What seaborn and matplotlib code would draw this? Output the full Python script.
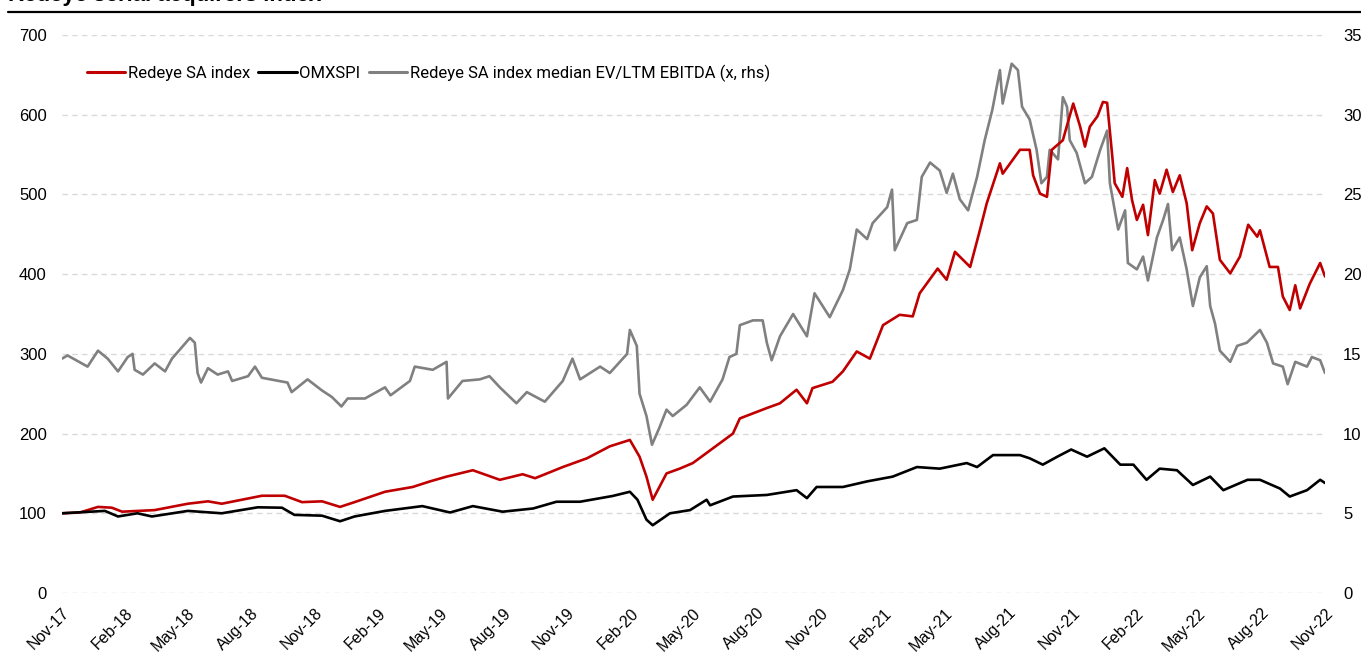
import matplotlib
matplotlib.use("Agg")
import matplotlib.pyplot as plt
import matplotlib.dates as mdates
from matplotlib.lines import Line2D
import pandas as pd
import seaborn as sns

# ============================================
# Data
# ============================================

redeye_dates = [
    "2017-11-20", "2017-12-16", "2018-01-11", "2018-01-31", "2018-02-15", "2018-04-03",
    "2018-05-21", "2018-06-19", "2018-07-09", "2018-09-05", "2018-10-08", "2018-11-02",
    "2018-12-01", "2018-12-27", "2019-01-17", "2019-03-02", "2019-04-11", "2019-05-06",
    "2019-05-30", "2019-07-07", "2019-08-15", "2019-09-17", "2019-10-05", "2019-11-14",
    "2019-12-19", "2020-01-21", "2020-02-19", "2020-03-04", "2020-03-14", "2020-03-23",
    "2020-04-12", "2020-05-01", "2020-05-20", "2020-06-11", "2020-07-17", "2020-07-27",
    "2020-09-04", "2020-09-23", "2020-10-17", "2020-11-01", "2020-11-09", "2020-12-08",
    "2020-12-23", "2021-01-12", "2021-01-31", "2021-02-19", "2021-03-15", "2021-04-03",
    "2021-04-13", "2021-05-09", "2021-05-22", "2021-06-03", "2021-06-25", "2021-07-09",
    "2021-07-19", "2021-08-07", "2021-08-11", "2021-09-05", "2021-09-19", "2021-09-24",
    "2021-10-04", "2021-10-14", "2021-10-21", "2021-11-06", "2021-11-21", "2021-12-01",
    "2021-12-08", "2021-12-15", "2021-12-26", "2022-01-03", "2022-01-09", "2022-01-16",
    "2022-01-20", "2022-01-31", "2022-02-07", "2022-02-14", "2022-02-21", "2022-03-02",
    "2022-03-09", "2022-03-19", "2022-03-26", "2022-04-05", "2022-04-14", "2022-04-24",
    "2022-05-04", "2022-05-12", "2022-05-23", "2022-06-02", "2022-06-11", "2022-06-21",
    "2022-07-06", "2022-07-20", "2022-08-01", "2022-08-14", "2022-08-18", "2022-09-01",
    "2022-09-13", "2022-09-20", "2022-09-30", "2022-10-08", "2022-10-15", "2022-10-29",
    "2022-11-13", "2022-11-20",
]
redeye_values = [
    100, 101, 108, 107, 102, 104,
    112, 115, 112, 122, 122, 114,
    115, 108, 114, 127, 133, 140,
    146, 154, 142, 149, 144, 158,
    169, 184, 192, 171, 146, 117,
    150, 156, 163, 177, 200, 219,
    232, 238, 255, 238, 257, 265,
    278, 303, 294, 336, 349, 347,
    376, 407, 393, 428, 409, 455,
    489, 539, 526, 556, 556, 524,
    501, 497, 556, 568, 614, 585,
    560, 585, 598, 616, 615, 552,
    514, 497, 533, 493, 468, 487,
    449, 518, 501, 531, 503, 524,
    489, 430, 464, 485, 476, 418,
    401, 422, 462, 447, 455, 409,
    409, 372, 355, 386, 357, 388,
    414, 397,
]

omx_dates = [
    "2017-11-20", "2018-01-21", "2018-02-09", "2018-03-09", "2018-03-30", "2018-05-21",
    "2018-07-09", "2018-08-30", "2018-10-04", "2018-10-22", "2018-12-01", "2018-12-27",
    "2019-01-17", "2019-03-02", "2019-04-25", "2019-06-04", "2019-07-07", "2019-08-19",
    "2019-10-02", "2019-11-05", "2019-12-09", "2020-01-25", "2020-02-19", "2020-03-01",
    "2020-03-14", "2020-03-23", "2020-04-17", "2020-05-16", "2020-06-09", "2020-06-14",
    "2020-07-17", "2020-09-04", "2020-10-17", "2020-11-01", "2020-11-15", "2020-12-23",
    "2021-01-27", "2021-03-05", "2021-04-09", "2021-05-12", "2021-06-20", "2021-07-05",
    "2021-07-28", "2021-09-05", "2021-09-19", "2021-10-08", "2021-10-29", "2021-11-18",
    "2021-12-11", "2022-01-05", "2022-01-28", "2022-02-16", "2022-03-07", "2022-03-26",
    "2022-04-20", "2022-05-13", "2022-06-07", "2022-06-26", "2022-07-31", "2022-08-18",
    "2022-09-16", "2022-09-30", "2022-10-25", "2022-11-13", "2022-11-20",
]
omx_values = [
    100, 103, 96, 100, 96, 103,
    100, 107.5, 107, 98, 97, 90,
    96, 103, 109, 101, 109, 102,
    106, 114.5, 114.5, 121.7, 127, 117,
    92, 85, 100, 104, 117, 110,
    121, 123, 129, 119, 133, 133,
    140, 146, 158, 156, 163, 158,
    173, 173, 169, 161, 171, 180,
    171, 181.5, 161, 161, 142, 156,
    154, 135.5, 146, 129, 142, 142,
    131, 121, 129, 142, 138,
]

evebitda_dates = [
    "2017-11-20", "2017-11-28", "2017-12-27", "2018-01-11", "2018-01-25", "2018-02-09",
    "2018-02-23", "2018-03-02", "2018-03-05", "2018-03-17", "2018-04-03", "2018-04-18",
    "2018-04-28", "2018-05-12", "2018-05-24", "2018-05-31", "2018-06-04", "2018-06-09",
    "2018-06-19", "2018-07-03", "2018-07-18", "2018-07-24", "2018-08-16", "2018-08-26",
    "2018-09-05", "2018-10-12", "2018-10-18", "2018-11-10", "2018-12-01", "2018-12-15",
    "2018-12-29", "2019-01-07", "2019-02-01", "2019-03-02", "2019-03-10", "2019-04-07",
    "2019-04-14", "2019-05-10", "2019-05-30", "2019-06-01", "2019-06-22", "2019-07-17",
    "2019-07-31", "2019-08-15", "2019-09-08", "2019-09-23", "2019-10-19", "2019-11-14",
    "2019-11-28", "2019-12-09", "2020-01-07", "2020-01-21", "2020-02-15", "2020-02-19",
    "2020-02-29", "2020-03-04", "2020-03-14", "2020-03-22", "2020-04-02", "2020-04-12",
    "2020-04-21", "2020-05-11", "2020-05-30", "2020-06-14", "2020-07-02", "2020-07-12",
    "2020-07-22", "2020-07-27", "2020-08-15", "2020-08-29", "2020-09-04", "2020-09-11",
    "2020-09-23", "2020-10-12", "2020-11-01", "2020-11-12", "2020-12-04", "2020-12-23",
    "2021-01-02", "2021-01-12", "2021-01-27", "2021-02-04", "2021-02-25", "2021-03-04",
    "2021-03-08", "2021-03-26", "2021-04-09", "2021-04-16", "2021-04-28", "2021-05-12",
    "2021-05-22", "2021-05-31", "2021-06-10", "2021-06-22", "2021-07-05", "2021-07-16",
    "2021-07-27", "2021-08-07", "2021-08-11", "2021-08-24", "2021-09-02", "2021-09-08",
    "2021-09-19", "2021-09-29", "2021-10-06", "2021-10-14", "2021-10-18", "2021-10-30",
    "2021-11-06", "2021-11-12", "2021-11-16", "2021-11-26", "2021-12-08", "2021-12-18",
    "2021-12-30", "2022-01-09", "2022-01-13", "2022-01-25", "2022-02-04", "2022-02-08",
    "2022-02-21", "2022-03-02", "2022-03-09", "2022-03-22", "2022-03-31", "2022-04-07",
    "2022-04-13", "2022-04-24", "2022-05-04", "2022-05-13", "2022-05-23", "2022-06-02",
    "2022-06-07", "2022-06-14", "2022-06-21", "2022-07-06", "2022-07-16", "2022-07-30",
    "2022-08-18", "2022-08-28", "2022-09-06", "2022-09-20", "2022-09-27", "2022-10-08",
    "2022-10-25", "2022-11-01", "2022-11-13", "2022-11-20",
]
evebitda_values = [
    14.7, 14.9, 14.2, 15.2, 14.7, 13.9,
    14.8, 15.0, 14.0, 13.7, 14.4, 13.9,
    14.7, 15.4, 16.0, 15.7, 13.8, 13.2,
    14.1, 13.7, 13.9, 13.3, 13.6, 14.2,
    13.5, 13.2, 12.6, 13.4, 12.7, 12.3,
    11.7, 12.2, 12.2, 12.9, 12.4, 13.3,
    14.2, 14.0, 14.5, 12.2, 13.3, 13.4,
    13.6, 12.9, 11.9, 12.6, 12.0, 13.3,
    14.7, 13.4, 14.2, 13.8, 15.0, 16.5,
    15.5, 12.5, 11.1, 9.3, 10.4, 11.5,
    11.1, 11.8, 12.9, 12.0, 13.4, 14.8,
    15.0, 16.8, 17.1, 17.1, 15.7, 14.6,
    16.1, 17.5, 16.1, 18.8, 17.3, 19.0,
    20.3, 22.8, 22.2, 23.2, 24.2, 25.3,
    21.5, 23.2, 23.4, 26.1, 27.0, 26.5,
    25.1, 26.3, 24.7, 24.0, 26.1, 28.4,
    30.3, 32.8, 30.7, 33.2, 32.8, 30.5,
    29.7, 27.8, 25.7, 26.1, 27.8, 27.2,
    31.1, 30.5, 28.4, 27.6, 25.7, 26.1,
    27.8, 29.0, 25.7, 22.8, 24.0, 20.7,
    20.3, 21.1, 19.6, 22.3, 23.4, 24.4,
    21.5, 22.3, 20.3, 18.0, 19.8, 20.5,
    18.0, 16.9, 15.2, 14.5, 15.5, 15.7,
    16.5, 15.7, 14.4, 14.2, 13.1, 14.5,
    14.2, 14.8, 14.6, 13.8,
]

series_labels = ["Redeye SA index", "OMXSPI", "Redeye SA index median EV/LTM EBITDA (x, rhs)"]
series_colors = ["#C00000", "#000000", "#808080"]
title_text = "Redeye serial acquirers index"

redeye = pd.DataFrame({"Date": pd.to_datetime(redeye_dates), "Value": redeye_values})
omx = pd.DataFrame({"Date": pd.to_datetime(omx_dates), "Value": omx_values})
evebitda = pd.DataFrame({"Date": pd.to_datetime(evebitda_dates), "Value": evebitda_values})

# ============================================
# Plot
# ============================================

sns.set_style("white")
plt.rcParams["font.family"] = ["Liberation Sans", "DejaVu Sans"]
plt.rcParams["text.color"] = "black"
plt.rcParams["xtick.color"] = "black"
plt.rcParams["ytick.color"] = "black"

W, H = 1361, 666
fig = plt.figure(figsize=(W / 100, H / 100), dpi=100)
ax = fig.add_axes([62 / W, 1 - 593 / H, (1325 - 62) / W, (593 - 35) / H])
ax2 = ax.twinx()

sns.lineplot(data=evebitda, x="Date", y="Value", ax=ax2, color=series_colors[2], linewidth=1.9)
sns.lineplot(data=redeye, x="Date", y="Value", ax=ax, color=series_colors[0], linewidth=1.9)
sns.lineplot(data=omx, x="Date", y="Value", ax=ax, color=series_colors[1], linewidth=1.9)

# left axis on top so red/black lines cover the grey one
ax.set_zorder(ax2.get_zorder() + 1)
ax.patch.set_visible(False)

ax.set_ylim(0, 700)
ax.set_yticks(range(0, 701, 100))
ax2.set_ylim(0, 35)
ax2.set_yticks(range(0, 36, 5))

start, end = pd.Timestamp("2017-11-20"), pd.Timestamp("2022-11-20")
ax.set_xlim(start, end)
tick_dates = pd.date_range(start, end, freq=pd.DateOffset(months=3))
ax.set_xticks(tick_dates)
ax.xaxis.set_major_formatter(mdates.DateFormatter("%b-%y"))

ax2.grid(axis="y", color="#d9d9d9", linestyle=(0, (4, 3)), linewidth=1.0)
ax.grid(False)
ax2.grid(axis="x", visible=False)

for a in (ax, ax2):
    for s in a.spines.values():
        s.set_visible(False)
    a.set_xlabel("")
    a.set_ylabel("")

ax.tick_params(axis="y", length=0, pad=11, labelsize=12, labelcolor="black")
ax2.tick_params(axis="y", length=0, pad=13, labelsize=12, labelcolor="black")
ax.tick_params(axis="x", length=0, pad=9, labelsize=11.5, labelcolor="black")
for lbl in ax.get_xticklabels():
    lbl.set_rotation(45)
    lbl.set_ha("right")
    lbl.set_va("top")
    lbl.set_rotation_mode("anchor")

handles = [Line2D([0], [0], color=c, linewidth=2.2) for c in series_colors]
ax.legend(handles, series_labels, loc="center left",
          bbox_to_anchor=((87 - 62) / (1325 - 62), (593 - 73) / (593 - 35)),
          ncol=3, frameon=False, borderpad=0, borderaxespad=0,
          handlelength=2.3, handletextpad=0.15, columnspacing=0.5,
          prop={"family": "Roboto", "size": 12})

# title, cut off at the top, with a rule underneath
fig.text(8 / W, 1 - 1.5 / H, title_text, fontsize=16, fontweight="bold", va="baseline", ha="left")
fig.add_artist(Line2D([8 / W, 1], [1 - 12 / H, 1 - 12 / H], color="black", linewidth=1.6,
                      transform=fig.transFigure))

plt.savefig("out.png", dpi=100)
